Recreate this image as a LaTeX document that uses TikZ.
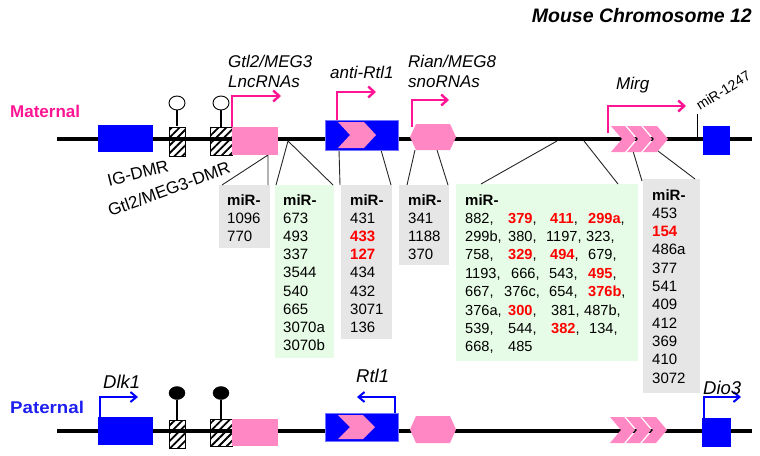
\documentclass[tikz,border=0pt]{standalone}
\usepackage{fontspec}
\usepackage{graphicx}
\setmainfont{Liberation Sans}
\usetikzlibrary{arrows.meta,patterns.meta,fit,shapes.geometric}
\definecolor{mpink}{RGB}{255,20,147}
\definecolor{lpink}{RGB}{255,136,196}
\definecolor{mblue}{RGB}{0,0,255}
\definecolor{pblue}{RGB}{30,30,240}
\definecolor{greyfill}{RGB}{230,230,230}
\definecolor{greenfill}{RGB}{230,252,230}
\definecolor{mred}{RGB}{255,0,0}
\newcommand{\Rd}[1]{\textcolor{mred}{\bfseries #1}}
\tikzset{
  chrom/.style={line width=4.5pt, black},
  greybox/.style={fill=greyfill, inner sep=0pt, draw=none},
  greenbox/.style={fill=greenfill, inner sep=0pt, draw=none},
  bluebox/.style={fill=mblue, inner sep=0pt, draw=none},
  pinkbox/.style={fill=lpink, inner sep=0pt, draw=none},
  hatchbox/.style={draw=black, line width=0.9pt, inner sep=0pt,
    pattern={Lines[angle=45,distance=5.5pt,line width=1.8pt]}, pattern color=black},
  lbl/.style={font=\fontsize{17}{20}\selectfont\itshape, inner sep=0pt, anchor=base west},
  plbl/.style={font=\fontsize{18.5}{20}\selectfont\itshape, inner sep=0pt, anchor=base west},
  mtxt/.style={font=\fontsize{15}{18}\selectfont, inner sep=0pt, anchor=base west},
  etxt/.style={font=\fontsize{14.6}{18}\selectfont, inner sep=0pt, anchor=base west},
  mhead/.style={font=\fontsize{15}{18}\selectfont\bfseries, inner sep=0pt, anchor=base west},
  conn/.style={line width=0.9pt, black!85},
  parrow/.style={line width=2.4pt, mpink, -{Straight Barb[length=6pt,width=11pt]}},
  barrow/.style={line width=2pt, mblue, -{Straight Barb[length=6pt,width=10pt]}},
  stem/.style={line width=1.8pt, black},
  openlolli/.style={draw=black, fill=white, line width=0.9pt, ellipse, inner sep=0pt, minimum width=16pt, minimum height=14pt},
  filllolli/.style={draw=black, fill=black, ellipse, inner sep=0pt, minimum width=16pt, minimum height=13pt},
}
\begin{document}
\begin{tikzpicture}[x=1pt,y=-1pt]
\useasboundingbox (0,0) rectangle (760,455);

% ---------- title and strand labels
\node[anchor=base east, inner sep=0pt, font=\fontsize{19.5}{22}\selectfont\bfseries\itshape] (title) at (752,22) {Mouse Chromosome 12};
\node[anchor=base west, inner sep=0pt, text=mpink, font=\fontsize{17}{20}\selectfont\bfseries] (mat) at (10,117) {Maternal};
\node[anchor=base west, inner sep=0pt, text=pblue, font=\fontsize{17}{20}\selectfont\bfseries] (pat) at (10,413) {\scalebox{1.1}[1]{Paternal}};

% ---------- miR boxes
\node[greybox, fit={(219,185)(270,248)}] (bA) {};
\node[greenbox, fit={(275,185)(334,358)}] (bB) {};
\node[greybox, fit={(341,185)(392,339)}] (bC) {};
\node[greybox, fit={(399,185)(449,265)}] (bD) {};
\node[greenbox, fit={(456,184)(638,361)}] (bE) {};
\node[greybox, fit={(643,179)(700,393)}] (bF) {};

% box A
\node[mhead] (a0) at (227,205) {miR-};
\foreach \t [count=\i] in {1096,770}
  \node[mtxt] (a\i) at (227,{205+18.2*\i}) {\t};
% box B
\node[mhead] (b0) at (283,205) {miR-};
\foreach \t [count=\i] in {673,493,337,3544,540,665,3070a,3070b}
  \node[mtxt] (b\i) at (283,{205+18.2*\i}) {\t};
% box C
\node[mhead] (c0) at (350,205) {miR-};
\foreach \t [count=\i] in {431,\Rd{433},\Rd{127},434,432,3071,136}
  \node[mtxt] (c\i) at (350,{205+18.2*\i}) {\t};
% box D
\node[mhead] (d0) at (408,205) {miR-};
\foreach \t [count=\i] in {341,1188,370}
  \node[mtxt] (d\i) at (408,{205+18.2*\i}) {\t};
% box E
\node[mhead] (e0) at (465,205) {miR-};
\foreach \x/\r/\t [count=\i] in {
  465/0/{882,}, 508/0/{\Rd{379},}, 550/0/{\Rd{411},}, 588/0/{\Rd{299a},},
  465/1/{299b,}, 508/1/{380,}, 546/1/{1197,}, 586/1/{323,},
  465/2/{758,}, 508/2/{\Rd{329},}, 550/2/{\Rd{494},}, 588/2/{679,},
  465/3/{1193,}, 511/3/{666,}, 549/3/{543,}, 588/3/{\Rd{495},},
  465/4/{667,}, 504/4/{376c,}, 549/4/{654,}, 588/4/{\Rd{376b},},
  465/5/{376a,}, 508/5/{\Rd{300},}, 551/5/{381,}, 584/5/{487b,},
  465/6/{539,}, 508/6/{544,}, 551/6/{\Rd{382},}, 589/6/{134,},
  465/7/{668,}, 508/7/{485}}
  \node[etxt] (e\i) at (\x,{223+18.4*\r}) {\t};
% box F
\node[mhead] (f0) at (652,200) {miR-};
\foreach \t [count=\i] in {453,\Rd{154},486a,377,541,409,412,369,410,3072}
  \node[mtxt] (f\i) at (652,{200+18.3*\i}) {\t};

% ---------- connectors from maternal elements to boxes
\coordinate (kA) at (268,155);
\coordinate (kAl) at (222,185);
\coordinate (kAr) at (268,185);
\coordinate (kB) at (288,141);
\coordinate (kBl) at (276,185);
\coordinate (kBr) at (333,185);
\coordinate (kC1) at (339,150);
\coordinate (kCl) at (340,185);
\coordinate (kC2) at (381,150);
\coordinate (kCr) at (391,185);
\coordinate (kD1) at (415,150);
\coordinate (kDl) at (407,185);
\coordinate (kD2) at (437,150);
\coordinate (kDr) at (448,185);
\coordinate (kE1) at (557,141);
\coordinate (kEl) at (481,184);
\coordinate (kE2) at (584,141);
\coordinate (kEr) at (618,184);
\coordinate (kF1) at (633,151);
\coordinate (kFl) at (642,181);
\coordinate (kF2) at (658,151);
\coordinate (kFr) at (695,179);
\draw[conn] (kAl) -- (kA) -- (kAr);
\draw[conn] (kBl) -- (kB) -- (kBr);
\draw[conn] (kC1) -- (kCl);
\draw[conn] (kC2) -- (kCr);
\draw[conn] (kD1) -- (kDl);
\draw[conn] (kD2) -- (kDr);
\draw[conn] (kE1) -- (kEl);
\draw[conn] (kE2) -- (kEr);
\draw[conn] (kF1) -- (kFl);
\draw[conn] (kF2) -- (kFr);

% ---------- maternal chromosome
\coordinate (mL) at (57,139);
\coordinate (mR) at (752,139);
\draw[chrom] (mL) -- (mR);

\node[bluebox, fit={(98,125)(153,152)}] (dlkm) {};
\node[openlolli] (lm1) at (177,103) {};
\node[openlolli] (lm2) at (221,103) {};
\node[hatchbox, fit={(169,127)(185,156)}] (hm1) {};
\node[hatchbox, fit={(210,127)(232,155)}] (hm2) {};
\draw[stem] (lm1.south) -- (hm1.north);
\draw[stem] (lm2.south) -- (hm2.north);
\node[pinkbox, fit={(232,127)(278,155)}] (gtlm) {};
\node[bluebox, draw=mblue!55!white, line width=0.6pt, fit={(325,120)(398,150)}] (rtlm) {};
\fill[lpink] (338,122) -- (364,122) -- (376,135) -- (364,148) -- (338,148) -- (350,135) -- cycle;
\fill[lpink] (410,137) -- (416,124) -- (450,124) -- (456,137) -- (450,150) -- (416,150) -- cycle;
\foreach \x in {611,627,643}
  \fill[lpink] (\x,126) -- (\x+14,126) -- (\x+25,139) -- (\x+14,152) -- (\x,152) -- (\x+11,139) -- cycle;
\node[bluebox, fit={(703,126)(730,155)}] (dio3m) {};

% tick for miR-1247
\coordinate (t1247a) at (697,137);
\coordinate (t1247b) at (697,114);
\draw[line width=0.9pt, black] (t1247a) -- (t1247b);
\node[anchor=base west, inner sep=0pt, rotate=32, font=\fontsize{14}{16}\selectfont] (m1247) at (700,111) {miR-1247};

% maternal transcription arrows
\coordinate (gtlA) at (232,127);
\coordinate (gtlB) at (281,96);
\draw[parrow] (gtlA) |- (gtlB);
\coordinate (artA) at (337,120);
\coordinate (artB) at (376,92);
\draw[parrow] (artA) |- (artB);
\coordinate (rianA) at (412,127);
\coordinate (rianB) at (449,100);
\draw[parrow] (rianA) |- (rianB);
\coordinate (mirgA) at (608,133);
\coordinate (mirgB) at (686,106);
\draw[parrow] (mirgA) |- (mirgB);

% maternal labels
\node[lbl] (gl1) at (228,67) {Gtl2/MEG3};
\node[lbl] (gl2) at (228,87) {LncRNAs};
\node[lbl] (arl) at (330,78) {anti-Rtl1};
\node[lbl] (rl1) at (408,67) {Rian/MEG8};
\node[lbl] (rl2) at (408,87) {snoRNAs};
\node[lbl] (mgl) at (616,89) {Mirg};
\node[inner sep=0pt, rotate=14, font=\fontsize{17}{20}\selectfont] (igdmr) at (138,173) {IG-DMR};
\node[inner sep=0pt, rotate=20, font=\fontsize{17}{20}\selectfont] (gdmr) at (169,189) {Gtl2/MEG3-DMR};

% ---------- paternal chromosome
\coordinate (pL) at (57,431);
\coordinate (pR) at (752,431);
\draw[chrom] (pL) -- (pR);

\node[bluebox, fit={(98,417)(153,445)}] (dlkp) {};
\node[filllolli] (lp1) at (177,393) {};
\node[filllolli] (lp2) at (221,393) {};
\node[hatchbox, fit={(169,420)(185,448)}] (hp1) {};
\node[hatchbox, fit={(210,419)(232,446)}] (hp2) {};
\draw[stem] (lp1.south) -- (hp1.north);
\draw[stem] (lp2.south) -- (hp2.north);
\node[pinkbox, fit={(232,419)(278,446)}] (gtlp) {};
\node[bluebox, draw=mblue!55!white, line width=0.6pt, fit={(325,413)(398,441)}] (rtlp) {};
\fill[lpink] (338,415) -- (363,415) -- (375,427) -- (363,439) -- (338,439) -- (350,427) -- cycle;
\fill[lpink] (410,429.5) -- (416,416) -- (450,416) -- (456,429.5) -- (450,443) -- (416,443) -- cycle;
\foreach \x in {610,626,642}
  \fill[lpink] (\x,417) -- (\x+14,417) -- (\x+25,430) -- (\x+14,443) -- (\x,443) -- (\x+11,430) -- cycle;
\node[bluebox, fit={(702,418)(731,447)}] (dio3p) {};

% paternal arrows
\coordinate (dlkA) at (100,417);
\coordinate (dlkB) at (138,397);
\draw[barrow] (dlkA) |- (dlkB);
\coordinate (rtlA) at (395,413);
\coordinate (rtlB) at (357,397);
\draw[barrow] (rtlA) |- (rtlB);
\coordinate (dioA) at (704,418);
\coordinate (dioB) at (741,397);
\draw[barrow] (dioA) |- (dioB);

% paternal labels
\node[plbl] (dkl) at (103,388) {Dlk1};
\node[plbl] (rtl) at (356,382) {Rtl1};
\node[plbl] (dil) at (703,394) {Dio3};
\end{tikzpicture}
\end{document}
